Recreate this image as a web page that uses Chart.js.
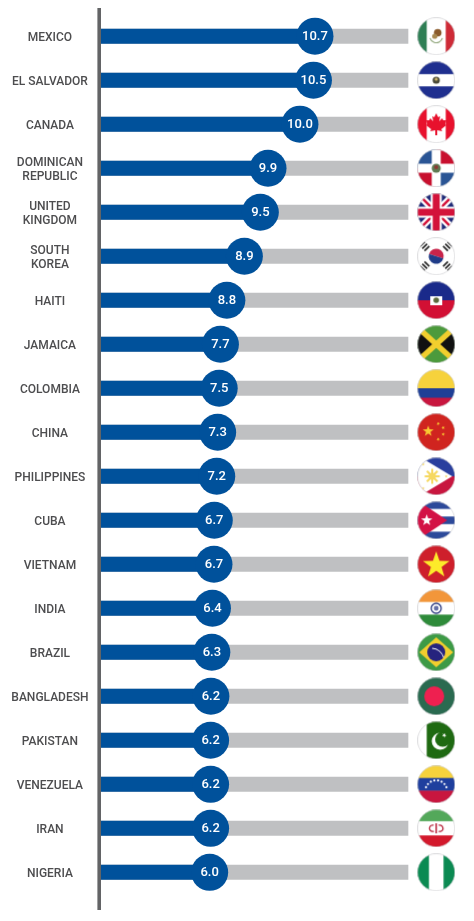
<!DOCTYPE html>
<html>
<head>
<meta charset="utf-8">
<title>Countries chart</title>
<script src="https://cdn.jsdelivr.net/npm/chart.js@4"></script>
<style>
  html, body { margin: 0; padding: 0; background: #fff; }
  canvas { display: block; }
</style>
</head>
<body>
<canvas id="chart" width="474" height="921"></canvas>
<script>
const countries = [
  "MEXICO", ["EL SALVADOR"], "CANADA", ["DOMINICAN", "REPUBLIC"], ["UNITED", "KINGDOM"],
  ["SOUTH", "KOREA"], "HAITI", "JAMAICA", "COLOMBIA", "CHINA",
  "PHILIPPINES", "CUBA", "VIETNAM", "INDIA", "BRAZIL",
  "BANGLADESH", "PAKISTAN", "VENEZUELA", "IRAN", "NIGERIA"
];
// printed numbers
const values = [10.7, 10.5, 10.0, 9.9, 9.5, 8.9, 8.8, 7.7, 7.5, 7.3, 7.2, 6.7, 6.7, 6.4, 6.3, 6.2, 6.2, 6.2, 6.2, 6.0];
// drawn length of each blue bar, % of the grey track (the picture's bars don't scale with the numbers)
const barLengths = [69.7, 69.2, 64.8, 54.4, 51.9, 46.7, 41.0, 38.9, 38.5, 38.0, 37.7, 36.9, 36.8, 36.3, 36.1, 35.8, 35.7, 35.7, 35.7, 35.4];
const trackLengths = countries.map(() => 100);
const flagColumn = countries.map(() => 109.2);
const flagNames = ["mexico", "salvador", "canada", "dominican", "uk", "korea", "haiti", "jamaica", "colombia", "china",
  "philippines", "cuba", "vietnam", "india", "brazil", "bangladesh", "pakistan", "venezuela", "iran", "nigeria"];

const BLUE = "#00519b";
const S = 38;

function hBands(g, colors, weights) {
  const total = weights.reduce((a, b) => a + b, 0);
  let y = 0;
  colors.forEach((c, i) => {
    const h = S * weights[i] / total;
    g.fillStyle = c;
    g.fillRect(0, y, S, h + 0.5);
    y += h;
  });
}
function vBands(g, colors, weights) {
  const total = weights.reduce((a, b) => a + b, 0);
  let x = 0;
  colors.forEach((c, i) => {
    const w = S * weights[i] / total;
    g.fillStyle = c;
    g.fillRect(x, 0, w + 0.5, S);
    x += w;
  });
}
function dot(g, x, y, r, color) {
  g.fillStyle = color;
  g.beginPath();
  g.arc(x, y, r, 0, Math.PI * 2);
  g.fill();
}
function star(g, x, y, r, color, turn) {
  g.fillStyle = color;
  g.beginPath();
  for (let i = 0; i < 10; i++) {
    const a = -Math.PI / 2 + (turn || 0) + i * Math.PI / 5;
    const d = i % 2 ? r * 0.4 : r;
    g.lineTo(x + d * Math.cos(a), y + d * Math.sin(a));
  }
  g.closePath();
  g.fill();
}
function poly(g, pts, color) {
  g.fillStyle = color;
  g.beginPath();
  pts.forEach(p => g.lineTo(p[0], p[1]));
  g.closePath();
  g.fill();
}
function seg(g, x1, y1, x2, y2, w, color) {
  g.strokeStyle = color;
  g.lineWidth = w;
  g.beginPath();
  g.moveTo(x1, y1);
  g.lineTo(x2, y2);
  g.stroke();
}

const painters = {
  mexico(g) {
    vBands(g, ["#2f7f55", "#fff", "#ce2b37"], [1, 2, 1]);
    g.strokeStyle = "#8fa67a"; g.lineWidth = 1.2;
    g.beginPath(); g.arc(19, 19, 6.5, 0.3, Math.PI - 0.3); g.stroke();
    dot(g, 20.5, 15.5, 3.8, "#8a5a2b");
    dot(g, 17.5, 19, 2.6, "#a98a52");
  },
  salvador(g) {
    hBands(g, ["#1f2f8f", "#fff", "#1f2f8f"], [1, 0.95, 1]);
    dot(g, 19, 19, 3.6, "#4a4a38");
    dot(g, 19, 18, 1.6, "#c9b36a");
  },
  canada(g) {
    vBands(g, ["#e8112d", "#fff", "#e8112d"], [1, 2, 1]);
    poly(g, [[19, 8], [21, 12], [23, 11], [22, 16], [25, 13], [26, 15], [29, 15], [28, 19], [29, 20], [24, 24], [25, 26], [20, 25],
      [20, 30], [18, 30], [18, 25], [13, 26], [14, 24], [9, 20], [10, 19], [9, 15], [12, 15], [13, 13], [16, 16], [15, 11], [17, 12]], "#e8112d");
  },
  dominican(g) {
    g.fillStyle = "#2a5595"; g.fillRect(0, 0, 19, 19); g.fillRect(19, 19, 19, 19);
    g.fillStyle = "#c8102e"; g.fillRect(19, 0, 19, 19); g.fillRect(0, 19, 19, 19);
    g.fillStyle = "#fff"; g.fillRect(14.5, 0, 9, S); g.fillRect(0, 14.5, S, 9);
    dot(g, 19, 19, 4.5, "#5f7a52");
    dot(g, 19, 18, 2, "#8c3a34");
  },
  uk(g) {
    g.fillStyle = "#1f2a78"; g.fillRect(0, 0, S, S);
    seg(g, 0, 0, S, S, 7, "#fff"); seg(g, S, 0, 0, S, 7, "#fff");
    seg(g, 0, 0, S, S, 2.5, "#d3123a"); seg(g, S, 0, 0, S, 2.5, "#d3123a");
    g.fillStyle = "#fff"; g.fillRect(13.5, 0, 11, S); g.fillRect(0, 13.5, S, 11);
    g.fillStyle = "#d3123a"; g.fillRect(15.5, 0, 7, S); g.fillRect(0, 15.5, S, 7);
  },
  korea(g) {
    g.fillStyle = "#fff"; g.fillRect(0, 0, S, S);
    g.fillStyle = "#c8244a"; g.beginPath(); g.arc(19, 19, 7.5, Math.PI * 1.1, Math.PI * 0.1); g.fill();
    g.fillStyle = "#1f3c88"; g.beginPath(); g.arc(19, 19, 7.5, Math.PI * 0.1, Math.PI * 1.1); g.fill();
    [[7.5, 9, 1], [30.5, 9, -1], [7.5, 29, -1], [30.5, 29, 1]].forEach(t => {
      for (let k = -1; k <= 1; k++) {
        const ox = t[2] * k * 2.2, oy = k * 2.2;
        seg(g, t[0] + ox - t[2] * 2.4, t[1] + oy + 2.4, t[0] + ox + t[2] * 2.4, t[1] + oy - 2.4, 1.7, "#2a2a2a");
      }
    });
  },
  haiti(g) {
    hBands(g, ["#1a2a8a", "#d21034"], [1, 1]);
    g.fillStyle = "#fff"; g.fillRect(13, 15, 12, 9);
    dot(g, 19, 19, 2.8, "#5c6a3c");
  },
  jamaica(g) {
    hBands(g, ["#4c9a3c", "#4c9a3c"], [1, 1]);
    poly(g, [[0, 3], [19, 19], [0, 35]], "#111");
    poly(g, [[38, 3], [19, 19], [38, 35]], "#111");
    seg(g, -2, 0, 40, 38, 5.5, "#f2cf2e"); seg(g, 40, 0, -2, 38, 5.5, "#f2cf2e");
  },
  colombia(g) { hBands(g, ["#f6d23c", "#1f3f96", "#c8163f"], [2, 1, 1]); },
  china(g) {
    g.fillStyle = "#d0241f"; g.fillRect(0, 0, S, S);
    star(g, 11, 18, 5.8, "#f9c932");
    star(g, 21, 10.5, 1.9, "#f9c932", 0.6); star(g, 26, 14.5, 1.9, "#f9c932", 0.9);
    star(g, 26, 21, 1.9, "#f9c932", 0.2); star(g, 21, 26, 1.9, "#f9c932", 0.6);
  },
  philippines(g) {
    hBands(g, ["#2a3f9e", "#c8163f"], [1, 1]);
    poly(g, [[0, -2], [35, 19], [0, 40]], "#fff");
    for (let i = 0; i < 8; i++) {
      const a = i * Math.PI / 4;
      seg(g, 15, 19, 15 + 7.5 * Math.cos(a), 19 + 7.5 * Math.sin(a), 2, "#f6d860");
    }
    dot(g, 15, 19, 3.6, "#f6d860");
    star(g, 6, 7, 1.6, "#f6d860"); star(g, 6, 31, 1.6, "#f6d860"); star(g, 29, 19, 1.6, "#f6d860");
  },
  cuba(g) {
    hBands(g, ["#2d4a9a", "#fff", "#2d4a9a", "#fff", "#2d4a9a"], [1, 1, 1, 1, 1]);
    poly(g, [[0, -1], [30, 19], [0, 39]], "#d31245");
    star(g, 9.5, 19, 6, "#fff");
  },
  vietnam(g) {
    g.fillStyle = "#ce1f2b"; g.fillRect(0, 0, S, S);
    star(g, 19, 20, 14, "#fdea2a");
  },
  india(g) {
    hBands(g, ["#f2963a", "#fff", "#2e8b3a"], [1, 1, 1]);
    g.strokeStyle = "#2c3a80"; g.lineWidth = 1.3;
    g.beginPath(); g.arc(19, 19, 5, 0, Math.PI * 2); g.stroke();
    dot(g, 19, 19, 2.4, "#6670a8");
  },
  brazil(g) {
    g.fillStyle = "#3d9a46"; g.fillRect(0, 0, S, S);
    poly(g, [[19, 4], [36, 19], [19, 34], [2, 19]], "#f2ce2e");
    dot(g, 19, 19, 9, "#26237e");
    g.strokeStyle = "#fff"; g.lineWidth = 1.1;
    g.beginPath(); g.arc(14, 28, 13, -1.5, -0.3); g.stroke();
  },
  bangladesh(g) {
    g.fillStyle = "#2a6a50"; g.fillRect(0, 0, S, S);
    dot(g, 17, 19, 10, "#ee2050");
  },
  pakistan(g) {
    vBands(g, ["#fff", "#1f6a12"], [1, 3]);
    dot(g, 23, 20, 8.5, "#fff");
    dot(g, 25.5, 18, 7.6, "#1f6a12");
    star(g, 27, 14, 2.4, "#fff", 0.5);
  },
  venezuela(g) {
    hBands(g, ["#f6d23c", "#1f3f9e", "#c8163f"], [1, 1, 1]);
    for (let i = 0; i < 8; i++) {
      const a = Math.PI * (1.12 + i * 0.76 / 7);
      dot(g, 19 + 11 * Math.cos(a), 26 + 11 * Math.sin(a), 1.1, "#fff");
    }
  },
  iran(g) {
    hBands(g, ["#53a85a", "#fff", "#d3192c"], [1, 1.2, 1]);
    g.strokeStyle = "#b8233a"; g.lineWidth = 1.3;
    g.beginPath(); g.arc(15.5, 19, 3.2, 1.2, 5); g.stroke();
    g.beginPath(); g.arc(22.5, 19, 3.2, -1.9, 1.9); g.stroke();
    seg(g, 19, 14, 19, 24, 1.5, "#b8233a");
  },
  nigeria(g) { vBands(g, ["#0b8a52", "#fff", "#0b8a52"], [1, 1.25, 1]); }
};

function makeFlag(name) {
  const c = document.createElement("canvas");
  c.width = S;
  c.height = S;
  const g = c.getContext("2d");
  g.save();
  g.beginPath();
  g.arc(S / 2, S / 2, S / 2 - 0.3, 0, Math.PI * 2);
  g.clip();
  painters[name](g);
  g.restore();
  g.strokeStyle = "rgba(205,205,208,0.8)";
  g.lineWidth = 0.8;
  g.beginPath();
  g.arc(S / 2, S / 2, S / 2 - 0.4, 0, Math.PI * 2);
  g.stroke();
  return c;
}

// vertical rule left of the bars, a little longer than the rows
const axisRule = {
  id: "axisRule",
  afterDatasetsDraw(chart) {
    const ctx = chart.ctx;
    const a = chart.chartArea;
    ctx.save();
    ctx.fillStyle = "#636466";
    ctx.fillRect(a.left - 3.6, 8, 3.6, 902);
    ctx.restore();
  }
};

// numbers inside the blue circles
const bubbleText = {
  id: "bubbleText",
  afterDatasetsDraw(chart) {
    const ctx = chart.ctx;
    const pts = chart.getDatasetMeta(2).data;
    ctx.save();
    ctx.fillStyle = "#fff";
    ctx.font = "500 13px Roboto";
    ctx.textAlign = "center";
    ctx.textBaseline = "middle";
    pts.forEach((p, i) => ctx.fillText(values[i].toFixed(1), p.x, p.y + 0.5));
    ctx.restore();
  }
};

new Chart(document.getElementById("chart").getContext("2d"), {
  type: "bar",
  data: {
    labels: countries,
    datasets: [
      { data: trackLengths, backgroundColor: "#bfc0c2", barThickness: 14.4, grouped: false, order: 4 },
      { data: barLengths, backgroundColor: BLUE, barThickness: 14.4, grouped: false, order: 3 },
      { type: "line", data: barLengths, showLine: false, pointRadius: 18.5, pointHoverRadius: 18.5,
        pointBackgroundColor: BLUE, pointBorderWidth: 0, order: 2 },
      { type: "line", data: flagColumn, showLine: false, pointStyle: flagNames.map(makeFlag),
        pointRadius: 19, order: 1 }
    ]
  },
  options: {
    indexAxis: "y",
    responsive: false,
    animation: false,
    layout: { autoPadding: false, padding: { left: 0, right: 4.6, top: 14.2, bottom: 26.7 } },
    plugins: { legend: { display: false }, tooltip: { enabled: false } },
    scales: {
      x: { type: "linear", min: 0, max: 120, display: false },
      y: {
        type: "category",
        grid: { display: false, drawTicks: false },
        border: { display: false },
        afterFit(scale) {
          scale.width = 101;
          scale.paddingTop = 0;
          scale.paddingBottom = 0;
        },
        ticks: {
          autoSkip: false,
          crossAlign: "center",
          padding: 12.5,
          labelOffset: 1.5,
          color: "#4d4d4f",
          font: { family: "Roboto", size: 12, weight: "500", lineHeight: 1.2 }
        }
      }
    }
  },
  plugins: [axisRule, bubbleText]
});
</script>
</body>
</html>
